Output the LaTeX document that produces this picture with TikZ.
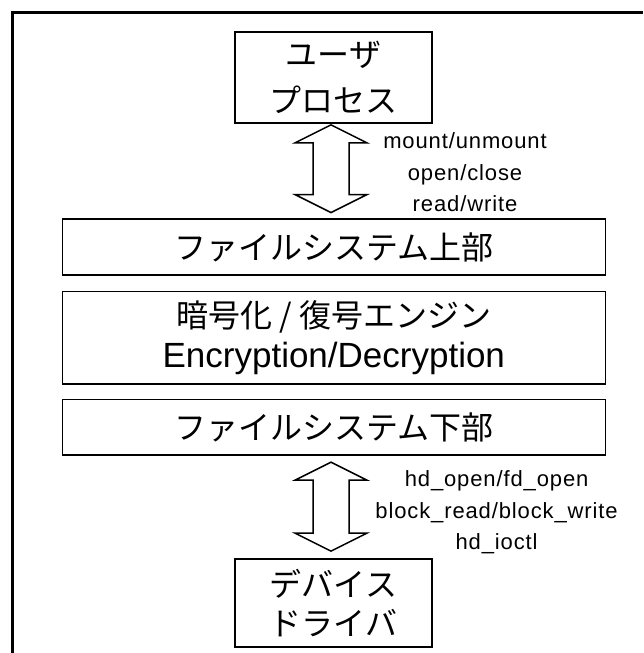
\documentclass[tikz,border=0pt]{standalone}
\usepackage{fontspec}
\setmainfont{Liberation Sans}
\newfontfamily\jp{Noto Sans CJK JP}
\usetikzlibrary{calc}
\newcommand\dblarrow[2]{\draw[blk] let \p1=(#1), \p2=(#2) in (\p1) -- (\x1+36pt,\y1-18pt) -- (\x1+18pt,\y1-18pt) -- (\x1+18pt,\y2+18pt) -- (\x1+36pt,\y2+18pt) -- (\p2) -- (\x1-36pt,\y2+18pt) -- (\x1-18pt,\y2+18pt) -- (\x1-18pt,\y1-18pt) -- (\x1-36pt,\y1-18pt) -- cycle;}
\begin{document}
\begin{tikzpicture}[x=1pt,y=-1pt,
 box/.style={draw, line width=1.5pt, inner sep=0pt, align=center},
 lab/.style={align=center, inner sep=0pt, font=\fontsize{22}{31.5}\selectfont\addfontfeature{LetterSpace=4}},
 blk/.style={draw, line width=1.5pt, line join=miter, fill=white}]
\useasboundingbox (0,0) rectangle (643,653);
\draw[line width=3pt] (12,653) -- (12,12.5) -- (643,12.5);
\node[box, minimum width=197pt, minimum height=91pt, font=\jp\fontsize{32}{46}\selectfont] (user) at (333.5,77.3) {ユーザ\\プロセス};
\node[box, minimum width=543pt, minimum height=56pt, font=\jp\fontsize{32}{40}\selectfont] (fsu) at (333.8,247) {ファイルシステム上部};
\node[box, minimum width=543pt, minimum height=92.3pt, font=\fontsize{35}{40}\selectfont] (enc) at (333.8,337.8) {{\jp\fontsize{32}{40}\selectfont 暗号化 / 復号エンジン}\\Encryption/Decryption};
\node[box, minimum width=543pt, minimum height=55.7pt, font=\jp\fontsize{32}{40}\selectfont] (fsl) at (333.8,427.2) {ファイルシステム下部};
\node[box, minimum width=197pt, minimum height=88pt, font=\jp\fontsize{32}{39}\selectfont] (dev) at (333.5,603.2) {デバイス\\ドライバ};
\node[lab] (l1) at (465,172.5) {mount/unmount\\open/close\\read/write};
\node[lab] (l2) at (496.6,512.5) {hd\_open/fd\_open\\block\_read/block\_write\\hd\_ioctl};
\coordinate (a1t) at ($(user.south)+(-2.5,1.3)$);
\coordinate (a1b) at ($(fsu.north)+(-2.8,-5.7)$);
\coordinate (a2t) at ($(fsl.south)+(-2.8,6.4)$);
\coordinate (a2b) at ($(dev.north)+(-2.5,-7.3)$);
\dblarrow{a1t}{a1b}
\dblarrow{a2t}{a2b}
\end{tikzpicture}
\end{document}
